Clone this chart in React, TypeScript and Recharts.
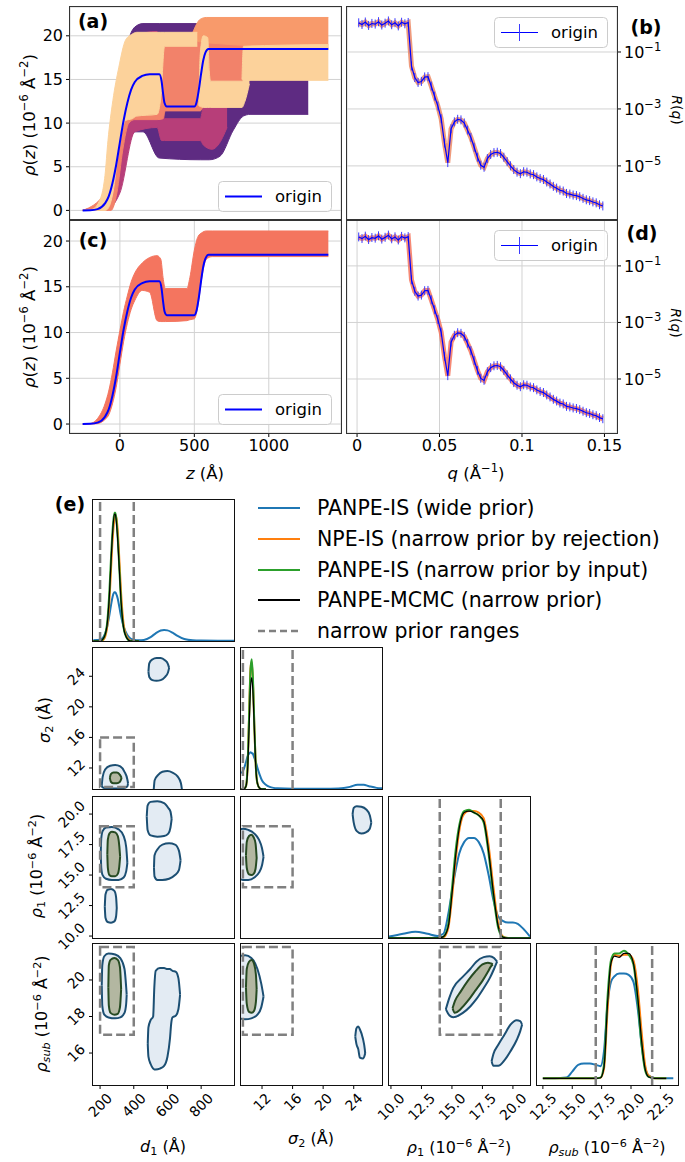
import React from 'react';
import {
  ComposedChart,
  Line,
  Area,
  XAxis,
  YAxis,
  CartesianGrid,
  ErrorBar,
  ReferenceLine,
  ReferenceArea,
} from 'recharts';

const FONT = '"DejaVu Sans", Verdana, sans-serif';

// ---------- (a), (c): SLD profiles ----------
const zTicks = [0, 500, 1000];
const rhoTicks = [0, 5, 10, 15, 20];
const originZ = [-250, -200, -150, -100, -75, -50, -25, 0, 25, 50, 75, 100, 150, 200, 265, 280, 290, 300, 315, 500, 515, 530, 545, 560, 575, 595, 1400];
const originRho = [0, 0.02, 0.15, 0.8, 1.6, 3.1, 5.2, 7.8, 10.3, 12.3, 13.8, 14.7, 15.4, 15.6, 15.6, 14.8, 13.4, 12.3, 11.9, 11.9, 12.4, 13.8, 15.6, 17.2, 18.1, 18.5, 18.5];

// envelopes of the sampled profiles in (a), [z, low, high]
const bandPurple = [
  [-250, 0, 0], [-150, 0, 0.3], [-100, 0, 2], [-50, 0.5, 7], [0, 3, 14], [50, 7, 19], [100, 9, 21.0],
  [155, 9, 21.4], [264, 6, 21.4], [540, 5.8, 21.4], [600, 5.8, 21], [672, 6.2, 19], [762, 9.2, 17],
  [829, 10.8, 16], [874, 11.0, 15.5], [1265, 11.0, 15.5],
];
const bandMagenta = [
  [-250, 0, 0], [-100, 0, 1.5], [0, 2, 13], [100, 9, 20], [250, 9.5, 20.5], [280, 8, 14], [300, 8, 10.5],
  [540, 8, 10.5], [560, 7.5, 12], [620, 7, 14], [660, 7.5, 15], [720, 9.5, 14.5],
];
const bandSalmon = [
  [-250, 0, 0], [-100, 0, 2], [-60, 0, 5], [-20, 2, 11], [20, 7, 16], [60, 10, 18.5], [100, 10.4, 19.5],
  [250, 10.4, 19.5], [290, 10.5, 19.5], [305, 11.4, 19.3], [540, 11.4, 19.3], [560, 12, 19.3],
  [600, 14.8, 19.3], [850, 14.8, 19.3], [880, 15, 19],
];
const bandOrange = [
  [490, 19.5, 20.4], [540, 19.3, 21.9], [580, 19.2, 22.1], [1400, 18.6, 22.1],
];
const bandPeach = [
  [-250, 0, 0], [-190, 0, 0.1], [-140, 0, 1], [-100, 0, 4], [-80, 0.2, 8], [-47, 2, 12.6], [-7, 7, 16.4],
  [38, 10.3, 19.5], [83, 10.5, 20.2], [113, 10.8, 20.4], [250, 11, 20.4], [275, 13, 20.4], [300, 18.8, 20.4],
  [520, 18.8, 20.4],
];
const bandPeachU = [
  [530, 12, 12], [540, 11.9, 18], [560, 11.8, 20], [590, 11.8, 19.8], [600, 11.8, 16], [610, 11.8, 14.8],
  [820, 11.8, 14.8], [840, 12.5, 15], [870, 14.5, 15],
];
const bandPeachRight = [
  [820, 15, 15], [830, 14.9, 18.8], [1400, 14.9, 19.0],
];
// envelope of the samples in (c)
const bandRed = [
  [-250, 0, 0], [-200, 0, 0.05], [-150, 0.05, 0.6], [-100, 0.5, 2.2], [-75, 1.0, 3.6], [-50, 2.2, 5.6],
  [-25, 4, 8], [0, 6.5, 10.2], [25, 9, 12.3], [50, 11, 14], [75, 12.5, 15.5], [100, 13.5, 16.5],
  [150, 14.6, 17.6], [200, 14.4, 18.2], [250, 11.3, 18.4], [275, 11.2, 18], [290, 11.2, 16], [305, 11.2, 14.8],
  [450, 11.3, 14.8], [470, 11.4, 16], [500, 11.5, 19], [525, 13, 20.5], [550, 16, 20.9], [580, 18, 21.1],
  [620, 18.3, 21.1], [1400, 18.3, 21.1],
];

// ---------- (b), (d): reflectivity ----------
const qTicks = [0, 0.05, 0.1, 0.15];
const rTicks = [0.1, 0.001, 0.00001];
const qVals = [
  0.001, 0.003, 0.005, 0.007, 0.009, 0.011, 0.013, 0.015, 0.017, 0.019, 0.021, 0.023, 0.025, 0.027, 0.029,
  0.031, 0.033, 0.035, 0.037, 0.039, 0.041, 0.043, 0.045, 0.047, 0.049, 0.051, 0.053, 0.055, 0.057, 0.059,
  0.061, 0.063, 0.065, 0.067, 0.069, 0.071, 0.073, 0.075, 0.077, 0.079, 0.081, 0.083, 0.085, 0.087, 0.089,
  0.091, 0.093, 0.095, 0.097, 0.099, 0.101, 0.103, 0.105, 0.107, 0.109, 0.111, 0.113, 0.115, 0.117, 0.119,
  0.121, 0.123, 0.125, 0.127, 0.129, 0.131, 0.133, 0.135, 0.137, 0.139, 0.141, 0.143, 0.145, 0.147, 0.149,
];
const rVals = [
  1.05, 0.92, 1.12, 0.85, 1.0, 0.95, 1.15, 0.88, 1.02, 1.22, 0.9, 1.06, 0.82, 1.1, 0.97,
  1.08, 0.032, 0.0126, 0.0085, 0.0092, 0.0132, 0.0135, 0.0063, 0.0028, 1.26e-3, 4.5e-4, 6.3e-5, 1.3e-5, 2.0e-4, 3.5e-4,
  4.3e-4, 4.1e-4, 3.2e-4, 1.8e-4, 1.0e-4, 4.5e-5, 2.0e-5, 1.05e-5, 8.9e-6, 1.8e-5, 2.5e-5, 2.9e-5, 3.0e-5, 2.7e-5, 2.0e-5,
  1.4e-5, 1.0e-5, 7.4e-6, 6.0e-6, 5.3e-6, 6.2e-6, 6.0e-6, 5.2e-6, 4.9e-6, 4.1e-6, 3.6e-6, 3.3e-6, 2.7e-6, 2.3e-6, 1.9e-6,
  1.65e-6, 1.4e-6, 1.3e-6, 1.07e-6, 1.02e-6, 9.4e-7, 9.0e-7, 8.2e-7, 7.2e-7, 6.4e-7, 6.0e-7, 5.4e-7, 5.0e-7, 4.3e-7, 3.9e-7,
];

// ---------- (e): marginals ----------
const d1Grid = [160, 200, 220, 240, 255, 265, 275, 285, 290, 295, 305, 315, 325, 340, 360, 380, 400, 430, 460, 500, 530, 560, 580, 600, 630, 660, 700, 750, 800, 900, 995];
const d1Wide = [0.005, 0.01, 0.03, 0.1, 0.2, 0.28, 0.35, 0.38, 0.38, 0.37, 0.33, 0.26, 0.19, 0.11, 0.05, 0.02, 0.01, 0.005, 0.008, 0.03, 0.06, 0.082, 0.086, 0.083, 0.065, 0.04, 0.015, 0.005, 0.003, 0.002, 0.002];
const d1Rej = [0, 0, 0.01, 0.09, 0.3, 0.56, 0.8, 0.95, 0.98, 0.98, 0.86, 0.62, 0.37, 0.13, 0.03, 0.005, 0, 0];
const d1Input = [0, 0, 0.02, 0.12, 0.38, 0.65, 0.88, 1.0, 1.0, 0.97, 0.8, 0.55, 0.3, 0.1, 0.02, 0, 0, 0];
const d1Mcmc = [0, 0, 0.02, 0.11, 0.35, 0.62, 0.86, 0.99, 0.99, 0.95, 0.78, 0.54, 0.3, 0.1, 0.02, 0, 0, 0];

const s2Grid = [9.3, 9.6, 9.9, 10.1, 10.3, 10.5, 10.65, 10.8, 11.0, 11.2, 11.4, 11.7, 12.0, 12.5, 13.0, 13.5, 14, 16, 20, 22, 23.5, 24.5, 25.3, 26, 27, 27.7];
const s2Wide = [0.11, 0.14, 0.19, 0.23, 0.25, 0.26, 0.255, 0.25, 0.22, 0.19, 0.15, 0.1, 0.06, 0.03, 0.015, 0.008, 0.005, 0.002, 0.002, 0.004, 0.015, 0.03, 0.03, 0.02, 0.008, 0.005];
const s2Rej = [0, 0, 0.02, 0.14, 0.5, 0.86, 0.9, 0.78, 0.44, 0.15, 0.04, 0.005, 0, 0];
const s2Input = [0, 0, 0.02, 0.15, 0.5, 0.85, 0.92, 0.8, 0.45, 0.15, 0.04, 0.005, 0, 0];
const s2Mcmc = [0, 0, 0.02, 0.12, 0.42, 0.72, 0.79, 0.7, 0.42, 0.14, 0.04, 0.005, 0, 0];

const r1Grid = [9.84, 11, 12, 13, 13.8, 14.3, 14.7, 15.0, 15.3, 15.6, 16.0, 16.4, 16.8, 17.2, 17.6, 18.0, 18.4, 18.8, 19.2, 19.6, 20.0, 20.4, 20.8, 21.4];
const r1Wide = [0.01, 0.03, 0.045, 0.03, 0.015, 0.03, 0.17, 0.33, 0.48, 0.6, 0.68, 0.71, 0.71, 0.68, 0.6, 0.45, 0.27, 0.15, 0.12, 0.11, 0.11, 0.1, 0.07, 0.01];
const r1Rej = [0, 0, 0, 0, 0, 0.005, 0.07, 0.28, 0.55, 0.76, 0.88, 0.9, 0.9, 0.89, 0.85, 0.66, 0.36, 0.1, 0.01, 0, 0, 0, 0, 0];
const r1Input = [0, 0, 0, 0, 0, 0.01, 0.1, 0.35, 0.62, 0.8, 0.9, 0.91, 0.89, 0.87, 0.82, 0.6, 0.3, 0.07, 0.005, 0, 0, 0, 0, 0];
const r1Mcmc = [0, 0, 0, 0, 0, 0.01, 0.08, 0.31, 0.58, 0.78, 0.89, 0.9, 0.89, 0.87, 0.83, 0.62, 0.32, 0.08, 0.005, 0, 0, 0, 0, 0];

const rsGrid = [12.5, 13.5, 14.5, 15.0, 15.5, 16.0, 16.5, 17.0, 17.4, 17.7, 18.0, 18.3, 18.6, 19.0, 19.4, 19.8, 20.2, 20.6, 20.9, 21.2, 21.5, 22.0, 23.0, 23.6];
const rsWide = [0, 0, 0.005, 0.05, 0.1, 0.11, 0.11, 0.1, 0.09, 0.2, 0.55, 0.72, 0.76, 0.78, 0.78, 0.77, 0.72, 0.5, 0.25, 0.08, 0.02, 0.003, 0, 0];
const rsRej = [0, 0, 0, 0, 0, 0, 0, 0, 0.003, 0.07, 0.5, 0.85, 0.92, 0.91, 0.92, 0.92, 0.88, 0.65, 0.35, 0.1, 0.02, 0, 0];
const rsInput = [0, 0, 0, 0, 0, 0, 0, 0, 0.005, 0.1, 0.6, 0.88, 0.93, 0.93, 0.95, 0.92, 0.85, 0.55, 0.25, 0.06, 0.01, 0, 0];
const rsMcmc = [0, 0, 0, 0, 0, 0, 0, 0, 0.004, 0.08, 0.55, 0.86, 0.91, 0.9, 0.93, 0.93, 0.86, 0.58, 0.28, 0.07, 0.01, 0, 0];

// narrow prior ranges
const priorD1 = [200, 400];
const priorS2 = [9.5, 16];
const priorR1 = [14, 19];
const priorRs = [17, 21.8];

// ---------- (e): 2d contours, [x, low, high] ----------
const c21Top = [[487, 24.6, 24.6], [492, 23.9, 25.7], [510, 23.5, 26.2], [535, 23.4, 26.4], [560, 23.5, 26.4], [585, 23.9, 26.1], [603, 24.5, 25.6], [610, 25.1, 25.1]];
const c21Right = [[518, 9.0, 9.0], [524, 8.5, 10.4], [545, 8.5, 11.1], [570, 8.5, 11.5], [600, 8.5, 11.6], [630, 8.5, 11.4], [660, 8.5, 10.9], [680, 8.5, 10.0], [687, 8.5, 9.0]];
const c21Outer = [[210, 9.7, 9.7], [215, 9.45, 10.8], [230, 9.35, 11.8], [260, 9.3, 12.3], [290, 9.3, 12.4], [320, 9.3, 12.2], [345, 9.4, 11.5], [362, 9.6, 10.5], [366, 10.0, 10.0]];
const c21Inner = [[258, 10.7, 10.7], [264, 10.2, 11.2], [280, 10.0, 11.4], [300, 10.0, 11.4], [318, 10.2, 11.1], [328, 10.7, 10.7]];

const c31Outer = [[204, 16.8, 16.8], [207, 15.6, 18.0], [215, 15.0, 18.6], [235, 14.7, 18.9], [270, 14.6, 18.95], [310, 14.6, 18.75], [340, 14.8, 18.2], [355, 15.3, 17.3], [362, 16.0, 16.0]];
const c31Inner = [[243, 16.7, 16.7], [246, 15.6, 17.9], [255, 15.0, 18.4], [270, 14.9, 18.55], [290, 14.9, 18.5], [305, 15.1, 18.2], [314, 15.7, 17.4], [319, 16.5, 16.5]];
const c31Top = [[477, 19.8, 19.8], [482, 18.7, 20.7], [500, 18.25, 21.0], [540, 18.15, 21.05], [580, 18.2, 20.9], [605, 18.4, 20.5], [618, 18.9, 20.2], [625, 19.6, 19.6]];
const c31Mid = [[520, 15.6, 15.6], [523, 14.9, 16.6], [540, 14.6, 17.1], [570, 14.6, 17.5], [610, 14.7, 17.6], [645, 15.0, 17.5], [668, 15.4, 17.0], [678, 16.2, 16.2]];
const c31Low = [[228, 12.4, 12.4], [232, 11.5, 13.4], [245, 11.15, 13.8], [265, 11.1, 13.85], [285, 11.2, 13.7], [295, 11.6, 13.2], [299, 12.3, 12.3]];

const c41Outer = [[210, 19.7, 19.7], [213, 18.6, 20.8], [225, 18.1, 21.3], [250, 17.95, 21.45], [290, 17.9, 21.4], [320, 17.95, 21.2], [345, 18.2, 20.6], [355, 18.7, 19.6], [358, 19.2, 19.2]];
const c41Inner = [[249, 19.6, 19.6], [252, 18.6, 20.8], [262, 18.2, 21.1], [285, 18.1, 21.2], [305, 18.15, 21.1], [318, 18.5, 20.7], [325, 19.5, 19.5]];
const c41Big = [[483, 16.5, 16.5], [487, 15.8, 17.4], [500, 15.4, 17.8], [515, 15.15, 18.0], [522, 15.1, 19.6], [530, 15.1, 20.5], [555, 15.15, 20.65], [580, 15.3, 20.65], [600, 15.8, 20.6], [615, 16.8, 20.6], [622, 17.6, 20.55], [630, 17.95, 20.5], [650, 18.05, 20.45], [665, 18.4, 20.1], [675, 19.2, 19.2]];

const c32Outer = [[9.0, 14.7, 18.7], [9.5, 14.6, 18.8], [10.2, 14.6, 18.7], [11.0, 14.8, 18.4], [11.6, 15.2, 17.9], [12.0, 15.8, 17.2], [12.2, 16.5, 16.5]];
const c32Inner = [[9.9, 16.6, 16.6], [10.0, 15.6, 17.7], [10.3, 15.05, 18.2], [10.6, 15.0, 18.3], [10.9, 15.1, 18.1], [11.15, 15.5, 17.6], [11.3, 16.4, 16.4]];
const c32Far = [[23.85, 20.0, 20.0], [24.0, 19.3, 20.5], [24.4, 18.6, 20.65], [25.0, 18.4, 20.6], [25.6, 18.5, 20.4], [26.1, 18.8, 19.9], [26.3, 19.3, 19.3]];

const c42Outer = [[9.0, 17.9, 21.3], [9.8, 17.85, 21.35], [10.6, 17.9, 21.2], [11.4, 18.1, 20.6], [11.9, 18.5, 19.8], [12.2, 19.1, 19.1]];
const c42Inner = [[9.9, 19.6, 19.6], [10.0, 18.7, 20.6], [10.3, 18.25, 21.0], [10.65, 18.2, 21.1], [10.95, 18.3, 20.9], [11.2, 18.8, 20.3], [11.3, 19.5, 19.5]];
const c42Far = [[24.2, 16.9, 16.9], [24.35, 16.5, 17.35], [24.6, 16.2, 17.45], [24.8, 15.75, 17.3], [25.2, 15.7, 16.8], [25.45, 15.9, 16.2], [25.5, 16.0, 16.0]];

const c43Outer = [[14.5, 18.4, 18.4], [14.8, 18.05, 19.05], [15.1, 17.96, 19.55], [15.9, 18.2, 20.18], [16.5, 18.55, 20.6], [17.0, 18.95, 21.0], [17.6, 19.55, 21.25], [18.1, 20.1, 21.3], [18.45, 20.6, 21.2], [18.7, 21.0, 21.0]];
const c43Inner = [[15.05, 18.45, 18.45], [15.25, 18.2, 18.85], [15.7, 18.4, 19.35], [16.3, 18.85, 19.95], [16.9, 19.4, 20.45], [17.5, 19.95, 20.85], [17.95, 20.45, 20.95], [18.2, 20.75, 20.9], [18.35, 20.85, 20.85]];
const c43Low = [[18.25, 15.55, 15.55], [18.4, 15.3, 15.95], [18.8, 15.3, 16.45], [19.3, 15.6, 17.0], [19.8, 16.1, 17.55], [20.3, 16.7, 17.8], [20.6, 17.2, 17.75], [20.75, 17.55, 17.55]];

const legendLabels = [
  'PANPE-IS (wide prior)',
  'NPE-IS (narrow prior by rejection)',
  'PANPE-IS (narrow prior by input)',
  'PANPE-MCMC (narrow prior)',
  'narrow prior ranges',
];

// ---------- helpers ----------
const C_BLUE = '#1f77b4';
const C_ORANGE = '#ff7f0e';
const C_GREEN = '#2ca02c';
const C_BLACK = '#000000';
const C_DASH = '#808080';

const origin = originZ.map((x, i) => ({ x, y: originRho[i] }));
const band = (rows: number[][]) => rows.map(([x, lo, hi]) => ({ x, r: [lo, hi] }));
const curve = (xs: number[], ys: number[]) => ys.map((v, i) => ({ x: xs[i], v }));
const refl = qVals.map((q, i) => ({ q, r: rVals[i], err: [rVals[i] * 0.3, rVals[i] * 0.45] }));

type Box = { x: number; y: number; w: number; h: number };
const A: Box = { x: 70, y: 7, w: 271, h: 213 };
const B: Box = { x: 347, y: 7, w: 270, h: 213 };
const C: Box = { x: 70, y: 220, w: 271, h: 213 };
const D: Box = { x: 347, y: 220, w: 270, h: 213 };
const COLX = [93, 241, 389, 537];
const ROWY = [500, 648, 797, 944];
const cell = (r: number, c: number): Box => ({ x: COLX[c], y: ROWY[r], w: 141, h: 141 });

const tickFont = { fontSize: 16, fill: '#000', fontFamily: FONT };
const textW = (s: string, fs: number) => s.split('').reduce((a, c) => a + (c === '.' ? 0.318 : 0.636), 0) * fs;

function RotXTick(props: any) {
  const { x, y, payload, fmt } = props;
  const s = fmt(payload.value);
  const fs = 14;
  const d = (textW(s, fs) + fs * 0.73) * 0.354;
  return (
    <text transform={`translate(${x},${y + d}) rotate(-45)`} textAnchor="middle" dy="0.36em" fontSize={fs} fontFamily={FONT} fill="#000">
      {s}
    </text>
  );
}

function RotYTick(props: any) {
  const { x, y, payload, fmt } = props;
  const s = fmt(payload.value);
  const fs = 14;
  const d = (textW(s, fs) + fs * 0.73) * 0.354;
  return (
    <text transform={`translate(${x - d},${y}) rotate(-45)`} textAnchor="middle" dy="0.36em" fontSize={fs} fontFamily={FONT} fill="#000">
      {s}
    </text>
  );
}

function PowTick(props: any) {
  const { x, y, payload } = props;
  const e = Math.round(Math.log10(payload.value));
  return (
    <text x={x} y={y} dy="0.36em" fontSize={16} fontFamily={FONT} fill="#000" textAnchor="start">
      10<tspan dy={-7} fontSize={11.5}>{'\u2212' + Math.abs(e)}</tspan>
    </text>
  );
}

function ProfilePanel({ box, yDom, bands, showX }: any) {
  const padB = showX ? 30 : 2;
  return (
    <div style={{ position: 'absolute', left: box.x - 70, top: box.y }}>
      <ComposedChart width={box.w + 70} height={box.h + padB} margin={{ top: 0, right: 0, bottom: 0, left: 0 }}>
        <CartesianGrid stroke="#d2d2d2" />
        <XAxis dataKey="x" type="number" domain={[-335, 1485]} ticks={zTicks} allowDataOverflow height={padB}
          tick={showX ? tickFont : false} tickLine={showX ? { stroke: '#000' } : false} axisLine={false} tickSize={4} tickMargin={3} />
        <YAxis type="number" domain={yDom} ticks={rhoTicks} allowDataOverflow width={70} tick={tickFont}
          tickLine={{ stroke: '#000' }} axisLine={false} tickSize={4} tickMargin={3} />
        {bands.map((b: any, i: number) => (
          <Area key={i} data={band(b.rows)} dataKey="r" type="monotone" fill={b.color} fillOpacity={1}
            stroke={b.color} strokeWidth={1} dot={false} activeDot={false} isAnimationActive={false} />
        ))}
        <Line data={origin} dataKey="y" type="monotone" stroke="#0000ff" strokeWidth={2} dot={false} activeDot={false} isAnimationActive={false} />
      </ComposedChart>
    </div>
  );
}

function ReflPanel({ box, yDom, bandColor, showX }: any) {
  const padB = showX ? 30 : 2;
  return (
    <div style={{ position: 'absolute', left: box.x, top: box.y }}>
      <ComposedChart width={box.w + 70} height={box.h + padB} margin={{ top: 0, right: 0, bottom: 0, left: 0 }}>
        <CartesianGrid stroke="#d2d2d2" />
        <XAxis dataKey="q" type="number" domain={[-0.0061, 0.1576]} ticks={qTicks} allowDataOverflow height={padB}
          tick={showX ? tickFont : false} tickLine={showX ? { stroke: '#000' } : false} axisLine={false} tickSize={4} tickMargin={3} />
        <YAxis orientation="right" type="number" scale="log" domain={yDom} ticks={rTicks} allowDataOverflow width={70}
          tick={PowTick} tickLine={{ stroke: '#000' }} axisLine={false} tickSize={4} tickMargin={3} />
        <Line data={refl} dataKey="r" type="linear" stroke={bandColor} strokeWidth={5} strokeOpacity={0.85} dot={false} activeDot={false} isAnimationActive={false} />
        <Line data={refl} dataKey="r" type="linear" stroke="#0000ff" strokeWidth={1.2} dot={false} activeDot={false} isAnimationActive={false}>
          <ErrorBar dataKey="err" width={0} stroke="#3c3cff" strokeWidth={1} direction="y" />
        </Line>
      </ComposedChart>
    </div>
  );
}

function CornerPanel({ box, xDom, yDom, xTicks, yTicks, xFmt, yFmt, children }: any) {
  const padL = yTicks ? 60 : 0;
  const padB = xTicks ? 62 : 0;
  return (
    <div style={{ position: 'absolute', left: box.x - padL, top: box.y }}>
      <ComposedChart width={box.w + padL} height={box.h + padB} margin={{ top: 0, right: 0, bottom: 0, left: 0 }}>
        <XAxis dataKey="x" type="number" domain={xDom} allowDataOverflow hide={!xTicks} ticks={xTicks} interval={0}
          height={padB} tickSize={4} tickMargin={3} axisLine={false} tickLine={{ stroke: '#000' }}
          tick={(p: any) => <RotXTick {...p} fmt={xFmt} />} />
        <YAxis type="number" domain={yDom} allowDataOverflow hide={!yTicks} ticks={yTicks} interval={0}
          width={padL} tickSize={4} tickMargin={3} axisLine={false} tickLine={{ stroke: '#000' }}
          tick={(p: any) => <RotYTick {...p} fmt={yFmt} />} />
        {children}
      </ComposedChart>
    </div>
  );
}

const marg = (key: string, xs: number[], ys: number[], color: string, w = 2) => (
  <Line key={key} data={curve(xs, ys)} dataKey="v" type="monotone" stroke={color} strokeWidth={w}
    dot={false} activeDot={false} isAnimationActive={false} />
);

const blob = (key: string, rows: number[][], inner = false) => (
  <Area key={key} data={band(rows)} dataKey="r" type="monotone"
    fill={inner ? '#b3b7a1' : '#e3ebf3'} fillOpacity={1}
    stroke={inner ? '#264a22' : '#1c4f73'} strokeWidth={2}
    dot={false} activeDot={false} isAnimationActive={false} />
);

const vline = (key: string, x: number) => (
  <ReferenceLine key={key} x={x} stroke={C_DASH} strokeWidth={2.5} strokeDasharray="9 4" />
);

const rect = (key: string, xs: number[], ys: number[]) => (
  <ReferenceArea key={key} x1={xs[0]} x2={xs[1]} y1={ys[0]} y2={ys[1]} fill="none" fillOpacity={0}
    stroke={C_DASH} strokeWidth={2.5} strokeDasharray="9 4" ifOverflow="visible" />
);

const int = (v: number) => String(v);
const one = (v: number) => v.toFixed(1);

const D1DOM = [158, 995];
const S2DOM = [9.25, 27.7];
const R1DOM = [9.84, 21.4];
const RSDOM_X = [12.0, 24.0];
const RSDOM_Y = [14.25, 21.97];

function Txt({ x, y, rot = 0, size = 16, bold = false, children }: any) {
  return (
    <div style={{
      position: 'absolute', left: x, top: y, transform: `translate(-50%, -50%) rotate(${rot}deg)`,
      fontSize: size, fontFamily: FONT, fontWeight: bold ? 'bold' : 'normal', whiteSpace: 'nowrap', lineHeight: 1, color: '#000',
    }}>
      {children}
    </div>
  );
}

const Sup = ({ children }: any) => <span style={{ fontSize: '0.7em', verticalAlign: '0.55em', lineHeight: 0 }}>{children}</span>;
const Sub = ({ children }: any) => <span style={{ fontSize: '0.7em', verticalAlign: '-0.25em', lineHeight: 0 }}>{children}</span>;
const SLDUnit = () => (<>(10<Sup>{'\u22126'}</Sup> Å<Sup>{'\u22122'}</Sup>)</>);

function Frame({ b, w = 1.5, color = '#000' }: any) {
  return (
    <div style={{
      position: 'absolute', left: b.x - w / 2, top: b.y - w / 2, width: b.w + w, height: b.h + w,
      border: `${w}px solid ${color}`, boxSizing: 'border-box', pointerEvents: 'none',
    }} />
  );
}

function SmallLegend({ x, y, errbar }: any) {
  return (
    <svg style={{ position: 'absolute', left: x, top: y }} width={114} height={31}>
      <rect x={0.5} y={0.5} width={113} height={30} rx={4} fill="#fff" fillOpacity={0.85} stroke="#cccccc" />
      <line x1={7} x2={44} y1={15.5} y2={15.5} stroke="#0000ff" strokeWidth={errbar ? 1.2 : 2} />
      {errbar && <line x1={25.5} x2={25.5} y1={7} y2={24} stroke="#3c3cff" strokeWidth={1} />}
      <text x={57} y={15.5} dy="0.36em" fontSize={16.5} fontFamily={FONT} fill="#000">origin</text>
    </svg>
  );
}

export default function App() {
  const legendColors = [C_BLUE, C_ORANGE, C_GREEN, C_BLACK, C_DASH];
  return (
    <div style={{ position: 'absolute', left: 0, top: 0, width: 685, height: 1162, background: '#fff', overflow: 'hidden' }}>
      <style>{'.recharts-surface{overflow:visible}'}</style>
      <ProfilePanel box={A} yDom={[-1.1, 23.3]} showX={false} bands={[
        { rows: bandPurple, color: '#5e2b82' },
        { rows: bandMagenta, color: '#b73e79' },
        { rows: bandSalmon, color: '#f2826a' },
        { rows: bandOrange, color: '#f89a6b' },
        { rows: bandPeach, color: '#fcd29b' },
        { rows: bandPeachU, color: '#fcd29b' },
        { rows: bandPeachRight, color: '#fcd29b' },
      ]} />
      <ProfilePanel box={C} yDom={[-0.98, 22.3]} showX bands={[{ rows: bandRed, color: '#f4755f' }]} />
      <ReflPanel box={B} yDom={[1.26e-7, 3.8]} bandColor="#ec8a66" showX={false} />
      <ReflPanel box={D} yDom={[1.23e-7, 4.2]} bandColor="#f4765e" showX />

      {/* corner plot */}
      <CornerPanel box={cell(0, 0)} xDom={D1DOM} yDom={[0, 1.1]}>
        {[marg('w', d1Grid, d1Wide, C_BLUE), marg('o', d1Grid, d1Rej, C_ORANGE), marg('g', d1Grid, d1Input, C_GREEN),
          marg('k', d1Grid, d1Mcmc, C_BLACK, 1.2), vline('a', priorD1[0]), vline('b', priorD1[1])]}
      </CornerPanel>
      <CornerPanel box={cell(1, 0)} xDom={D1DOM} yDom={S2DOM} yTicks={[12, 16, 20, 24]} yFmt={int}>
        {[blob('t', c21Top), blob('r', c21Right), blob('o', c21Outer), rect('p', priorD1, priorS2), blob('i', c21Inner, true)]}
      </CornerPanel>
      <CornerPanel box={cell(1, 1)} xDom={S2DOM} yDom={[0, 1]}>
        {[marg('w', s2Grid, s2Wide, C_BLUE), marg('o', s2Grid, s2Rej, C_ORANGE), marg('g', s2Grid, s2Input, C_GREEN),
          marg('k', s2Grid, s2Mcmc, C_BLACK, 1.2), vline('a', priorS2[0]), vline('b', priorS2[1])]}
      </CornerPanel>
      <CornerPanel box={cell(2, 0)} xDom={D1DOM} yDom={R1DOM} yTicks={[10, 12.5, 15, 17.5, 20]} yFmt={one}>
        {[blob('t', c31Top), blob('m', c31Mid), blob('l', c31Low), blob('o', c31Outer), rect('p', priorD1, priorR1), blob('i', c31Inner, true)]}
      </CornerPanel>
      <CornerPanel box={cell(2, 1)} xDom={S2DOM} yDom={R1DOM}>
        {[blob('f', c32Far), blob('o', c32Outer), rect('p', priorS2, priorR1), blob('i', c32Inner, true)]}
      </CornerPanel>
      <CornerPanel box={cell(2, 2)} xDom={R1DOM} yDom={[0, 1]}>
        {[marg('w', r1Grid, r1Wide, C_BLUE), marg('o', r1Grid, r1Rej, C_ORANGE), marg('g', r1Grid, r1Input, C_GREEN),
          marg('k', r1Grid, r1Mcmc, C_BLACK, 1.2), vline('a', priorR1[0]), vline('b', priorR1[1])]}
      </CornerPanel>
      <CornerPanel box={cell(3, 0)} xDom={D1DOM} yDom={RSDOM_Y} xTicks={[200, 400, 600, 800]} xFmt={int}
        yTicks={[16, 18, 20]} yFmt={int}>
        {[blob('b', c41Big), blob('o', c41Outer), rect('p', priorD1, priorRs), blob('i', c41Inner, true)]}
      </CornerPanel>
      <CornerPanel box={cell(3, 1)} xDom={S2DOM} yDom={RSDOM_Y} xTicks={[12, 16, 20, 24]} xFmt={int}>
        {[blob('f', c42Far), blob('o', c42Outer), rect('p', priorS2, priorRs), blob('i', c42Inner, true)]}
      </CornerPanel>
      <CornerPanel box={cell(3, 2)} xDom={R1DOM} yDom={RSDOM_Y} xTicks={[10, 12.5, 15, 17.5, 20]} xFmt={one}>
        {[blob('l', c43Low), blob('o', c43Outer), rect('p', priorR1, priorRs), blob('i', c43Inner, true)]}
      </CornerPanel>
      <CornerPanel box={cell(3, 3)} xDom={RSDOM_X} yDom={[-0.05, 1]} xTicks={[12.5, 15, 17.5, 20, 22.5]} xFmt={one}>
        {[marg('w', rsGrid, rsWide, C_BLUE), marg('o', rsGrid, rsRej, C_ORANGE), marg('g', rsGrid, rsInput, C_GREEN),
          marg('k', rsGrid, rsMcmc, C_BLACK, 1.2), vline('a', priorRs[0]), vline('b', priorRs[1])]}
      </CornerPanel>

      {/* frames */}
      {[A, B, C, D].map((b, i) => <Frame key={'t' + i} b={b} w={1.2} color="#333" />)}
      {[[0, 0], [1, 0], [1, 1], [2, 0], [2, 1], [2, 2], [3, 0], [3, 1], [3, 2], [3, 3]].map(([r, c]) => (
        <Frame key={'c' + r + c} b={cell(r, c)} w={1.5} color="#111" />
      ))}

      {/* legends */}
      <SmallLegend x={218} y={181} />
      <SmallLegend x={218} y={394} />
      <SmallLegend x={494} y={17} errbar />
      <SmallLegend x={494} y={230} errbar />
      <svg style={{ position: 'absolute', left: 250, top: 490 }} width={435} height={160}>
        {legendLabels.map((t, i) => {
          const yy = [18, 49, 80, 110, 141][i];
          return (
            <g key={t}>
              <line x1={8} x2={50} y1={yy} y2={yy} stroke={legendColors[i]} strokeWidth={i === 4 ? 2.5 : 2}
                strokeDasharray={i === 4 ? '7 4' : undefined} />
              <text x={67} y={yy} dy="0.36em" fontSize={20.5} fontFamily={FONT} fill="#000">{t}</text>
            </g>
          );
        })}
      </svg>

      {/* text labels */}
      <Txt x={93} y={21} size={19} bold>(a)</Txt>
      <Txt x={646} y={27} size={19} bold>(b)</Txt>
      <Txt x={93} y={240} size={19} bold>(c)</Txt>
      <Txt x={642} y={233} size={19} bold>(d)</Txt>
      <Txt x={70} y={504} size={19} bold>(e)</Txt>
      <Txt x={30} y={115} rot={-90} size={16.5}><i>ρ</i>(<i>z</i>) <SLDUnit /></Txt>
      <Txt x={30} y={327} rot={-90} size={16.5}><i>ρ</i>(<i>z</i>) <SLDUnit /></Txt>
      <Txt x={677} y={110} rot={90} size={14}><i>R</i>(<i>q</i>)</Txt>
      <Txt x={676} y={323} rot={90} size={14}><i>R</i>(<i>q</i>)</Txt>
      <Txt x={205} y={474} size={16.5}><i>z</i> (Å)</Txt>
      <Txt x={476} y={474} size={16.5}><i>q</i> (Å<Sup>{'\u22121'}</Sup>)</Txt>
      <Txt x={45} y={720} rot={-90} size={16}><i>σ</i><Sub>2</Sub> (Å)</Txt>
      <Txt x={37} y={866} rot={-90} size={16}><i>ρ</i><Sub>1</Sub> <SLDUnit /></Txt>
      <Txt x={42} y={1014} rot={-90} size={16}><i>ρ</i><Sub><i>sub</i></Sub> <SLDUnit /></Txt>
      <Txt x={163} y={1147} size={16}><i>d</i><Sub>1</Sub> (Å)</Txt>
      <Txt x={311} y={1139} size={16}><i>σ</i><Sub>2</Sub> (Å)</Txt>
      <Txt x={459} y={1148} size={16}><i>ρ</i><Sub>1</Sub> <SLDUnit /></Txt>
      <Txt x={607} y={1148} size={16}><i>ρ</i><Sub><i>sub</i></Sub> <SLDUnit /></Txt>
    </div>
  );
}
